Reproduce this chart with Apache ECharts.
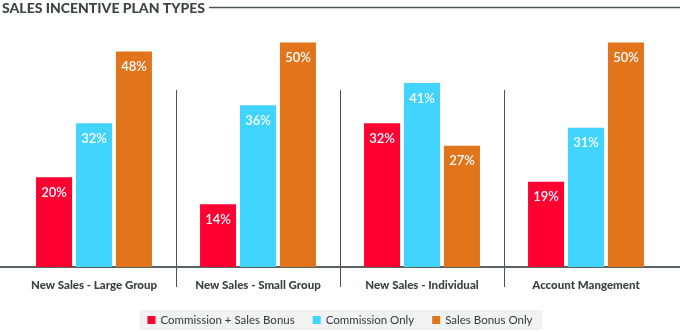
<!DOCTYPE html>
<html>
<head>
<meta charset="utf-8">
<script src="https://cdn.jsdelivr.net/npm/echarts@6/dist/echarts.min.js"></script>
<style>
html,body{margin:0;padding:0;background:#fff;}
#c{width:680px;height:332px;}
</style>
</head>
<body>
<div id="c"></div>
<script>
const titleText = 'SALES INCENTIVE PLAN TYPES';
const categories = ['New Sales - Large Group', 'New Sales - Small Group', 'New Sales - Individual', 'Account Mangement'];
const seriesNames = ['Commission + Sales Bonus', 'Commission Only', 'Sales Bonus Only'];
const commissionPlusBonus = [20, 14, 32, 19];
const commissionOnly = [32, 36, 41, 31];
const salesBonusOnly = [48, 50, 27, 50];
const colors = ['#ff0033', '#40d4ff', '#e2741b'];

const font = 'Lato, "Noto Sans", sans-serif';
const chart = echarts.init(document.getElementById('c'), null, {renderer: 'canvas'});

function bar(name, data, color) {
  return {
    name: name,
    type: 'bar',
    xAxisIndex: 0,
    yAxisIndex: 0,
    data: data,
    barWidth: 36,
    barGap: '11%',
    itemStyle: {color: color},
    label: {
      show: true,
      position: 'insideTop',
      distance: 9,
      color: '#fff',
      fontFamily: font,
      fontSize: 13,
      fontWeight: 600,
      formatter: '{c}%'
    }
  };
}

chart.setOption({
  animation: false,
  textStyle: {fontFamily: font},
  title: {
    text: titleText,
    left: 2,
    top: 1,
    padding: 0,
    textStyle: {fontFamily: font, fontSize: 14, fontWeight: 900, color: '#3c4646'}
  },
  graphic: [{
    type: 'line',
    shape: {x1: 209, y1: 7.5, x2: 680, y2: 7.5},
    style: {stroke: '#4a5454', lineWidth: 1.5}
  }],
  legend: {
    data: seriesNames,
    bottom: 2,
    left: 'center',
    itemWidth: 8,
    itemHeight: 8,
    itemGap: 18,
    icon: 'rect',
    backgroundColor: '#f1f2f2',
    padding: [4, 10, 4, 8],
    textStyle: {fontFamily: font, fontSize: 11.5, color: '#333b3b', padding: [0, 0, 0, 0]}
  },
  grid: [
    {left: 12, right: 12, top: 38, bottom: 65},
    {left: 0, right: 0, top: 38, bottom: 65},
    {left: 12, right: 12, top: 90, bottom: 45}
  ],
  xAxis: [
    {
      type: 'category', gridIndex: 0, data: categories,
      axisLine: {show: false}, axisTick: {show: false},
      axisLabel: {margin: 12, fontFamily: font, fontSize: 11.5, fontWeight: 900, color: '#3a4242', interval: 0}
    },
    {
      type: 'value', gridIndex: 1, min: 0, max: 1,
      axisLine: {show: true, onZero: false, lineStyle: {color: '#5a6262', width: 2}},
      axisTick: {show: false}, axisLabel: {show: false}, splitLine: {show: false}
    },
    {
      type: 'value', gridIndex: 2, min: 0, max: 4, interval: 1,
      axisLine: {show: false}, axisTick: {show: false}, axisLabel: {show: false},
      splitLine: {show: true, showMinLine: false, showMaxLine: false, lineStyle: {color: '#4a5252', width: 1}}
    }
  ],
  yAxis: [
    {type: 'value', gridIndex: 0, min: 0, max: 51, show: false, splitLine: {show: false}},
    {type: 'value', gridIndex: 1, min: 0, max: 1, show: false, splitLine: {show: false}},
    {type: 'value', gridIndex: 2, min: 0, max: 1, show: false, splitLine: {show: false}}
  ],
  series: [
    bar(seriesNames[0], commissionPlusBonus, colors[0]),
    bar(seriesNames[1], commissionOnly, colors[1]),
    bar(seriesNames[2], salesBonusOnly, colors[2])
  ]
});
</script>
</body>
</html>
